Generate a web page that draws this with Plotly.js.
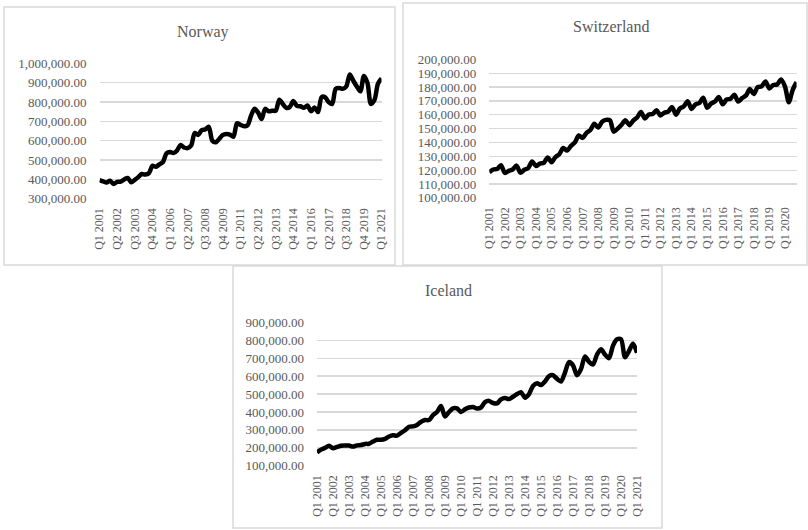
<!DOCTYPE html>
<html>
<head>
<meta charset="utf-8">
<script src="https://cdn.plot.ly/plotly-3.0.1.min.js"></script>
<style>
  html, body { margin: 0; padding: 0; background: #ffffff; }
  #chart { width: 808px; height: 530px; }
</style>
</head>
<body>
<div id="chart"></div>
<script>
// ---- Data ----
const norwayValues = [
  396000, 390000, 384000, 393000, 376000, 388000, 389000, 400000, 408000, 385000,
  398000, 412000, 428000, 425000, 432000, 470000, 466000, 478000, 490000, 535000,
  542000, 536000, 550000, 578000, 565000, 562000, 575000, 640000, 630000, 655000,
  658000, 672000, 600000, 592000, 610000, 630000, 635000, 632000, 620000, 690000,
  682000, 675000, 680000, 730000, 765000, 745000, 712000, 765000, 752000, 755000,
  755000, 812000, 790000, 770000, 775000, 805000, 780000, 778000, 770000, 782000,
  752000, 772000, 748000, 825000, 825000, 800000, 790000, 868000, 872000, 868000,
  880000, 942000, 910000, 880000, 855000, 935000, 900000, 790000, 810000, 895000,
  922000
];
const switzerlandValues = [
  118500, 120500, 120800, 123500, 118000, 119500, 120500, 123300, 118200, 120300,
  121500, 126300, 123000, 124800, 125300, 129200, 125800, 129500, 131500, 136000,
  134200, 137500, 140000, 145000, 143300, 147000, 149000, 153500, 150800, 155000,
  156300, 156000, 147800, 150000, 152800, 156000, 152500, 155800, 158000, 162000,
  157200, 160200, 160500, 163200, 159500, 161500, 162300, 165500, 160000, 164500,
  166000, 169800, 164200, 167500, 168500, 172300, 165000, 168000, 169500, 172800,
  167500, 171000, 171500, 174500, 169500, 172000, 174000, 178500, 175000, 180000,
  180500, 184000, 179000, 181500, 181800, 185500, 180500, 169000, 178000, 183500
];
const icelandValues = [
  175000, 190000, 200000, 212000, 198000, 205000, 212000, 213000, 213000, 207000,
  214000, 216000, 222000, 223000, 235000, 245000, 245000, 250000, 263000, 270000,
  268000, 283000, 298000, 318000, 320000, 328000, 345000, 355000, 355000, 383000,
  400000, 433000, 375000, 400000, 420000, 420000, 400000, 415000, 425000, 428000,
  420000, 425000, 455000, 462000, 450000, 448000, 470000, 478000, 472000, 485000,
  500000, 510000, 480000, 500000, 545000, 560000, 550000, 570000, 600000, 605000,
  585000, 570000, 620000, 678000, 660000, 605000, 640000, 710000, 680000, 665000,
  720000, 750000, 720000, 700000, 770000, 805000, 805000, 705000, 740000, 780000,
  730000
];

const norwayTicks = ["Q1 2001","Q2 2002","Q3 2003","Q4 2004","Q1 2006","Q2 2007","Q3 2008","Q4 2009",
  "Q1 2011","Q2 2012","Q3 2013","Q4 2014","Q1 2016","Q2 2017","Q3 2018","Q4 2019","Q1 2021"];
const switzerlandTicks = ["Q1 2001","Q1 2002","Q1 2003","Q1 2004","Q1 2005","Q1 2006","Q1 2007","Q1 2008",
  "Q1 2009","Q1 2010","Q1 2011","Q1 2012","Q1 2013","Q1 2014","Q1 2015","Q1 2016","Q1 2017","Q1 2018",
  "Q1 2019","Q1 2020"];
const icelandTicks = ["Q1 2001","Q1 2002","Q1 2003","Q1 2004","Q1 2005","Q1 2006","Q1 2007","Q1 2008",
  "Q1 2009","Q1 2010","Q1 2011","Q1 2012","Q1 2013","Q1 2014","Q1 2015","Q1 2016","Q1 2017","Q1 2018",
  "Q1 2019","Q1 2020","Q1 2021"];

const titles = ["Norway", "Switzerland", "Iceland"];

// quarter category labels
function quarterLabels(n) {
  const out = [];
  for (let k = 0; k < n; k++) out.push("Q" + (k % 4 + 1) + " " + (2001 + Math.floor(k / 4)));
  return out;
}

// ---- Layout helpers ----
const W = 808, H = 530;
const px = v => v / W;
const py = v => 1 - v / H;
const FONT = "Liberation Serif, Times New Roman, serif";
const GREY = "#595959";
const GRID = "#d9d9d9";

function lineTrace(vals, xa, ya) {
  return {
    x: quarterLabels(vals.length), y: vals, xaxis: xa, yaxis: ya,
    type: "scatter", mode: "lines",
    line: { color: "#000000", width: 4.5, shape: "spline", smoothing: 0.8 },
    hoverinfo: "skip", showlegend: false
  };
}

function xAxis(x0, x1, yaxisId, n, ticks) {
  return {
    domain: [px(x0), px(x1)], anchor: yaxisId, type: "category",
    range: [0, n - 1], tickmode: "array", tickvals: ticks, ticktext: ticks,
    tickangle: -90, showgrid: false, zeroline: false, showline: false, ticks: "",
    ticklabelstandoff: 6,
    tickfont: { family: FONT, size: 12, color: GREY }, fixedrange: true
  };
}
function yAxis(y0, y1, xaxisId, lo, hi, step) {
  return {
    domain: [py(y1), py(y0)], anchor: xaxisId, range: [lo, hi], dtick: step,
    tick0: lo, tickformat: ",.2f", showgrid: true, gridcolor: GRID, gridwidth: 1.3,
    zeroline: false, showline: false, ticks: "", ticklabelstandoff: 12,
    tickfont: { family: FONT, size: 13, color: GREY }, fixedrange: true
  };
}

const data = [
  lineTrace(norwayValues, "x", "y"),
  lineTrace(switzerlandValues, "x2", "y2"),
  lineTrace(icelandValues, "x3", "y3")
];

const panelBox = (x0, y0, x1, y1) => ({
  type: "rect", xref: "paper", yref: "paper",
  x0: px(x0), x1: px(x1), y0: py(y1), y1: py(y0),
  line: { color: "#d9d9d9", width: 1.5 }, fillcolor: "rgba(0,0,0,0)", layer: "below"
});

const titleAnn = (text, x, y) => ({
  text: text, xref: "paper", yref: "paper", x: px(x), y: py(y),
  xanchor: "center", yanchor: "middle", showarrow: false,
  font: { family: FONT, size: 16, color: GREY }
});

const layout = {
  width: W, height: H,
  margin: { l: 0, r: 0, t: 0, b: 0, pad: 0 },
  paper_bgcolor: "#ffffff", plot_bgcolor: "rgba(0,0,0,0)",
  showlegend: false,
  xaxis: xAxis(99.5, 381.5, "y", norwayValues.length, norwayTicks),
  yaxis: yAxis(63.3, 198.8, "x", 300000, 1000000, 100000),
  xaxis2: xAxis(489.3, 796.6, "y2", switzerlandValues.length, switzerlandTicks),
  yaxis2: yAxis(59.3, 197.9, "x2", 100000, 200000, 10000),
  xaxis3: xAxis(317, 637, "y3", icelandValues.length, icelandTicks),
  yaxis3: yAxis(322.3, 465.8, "x3", 100000, 900000, 100000),
  shapes: [
    panelBox(4, 7, 395, 265),
    panelBox(403, 3, 807, 265),
    panelBox(233, 266, 662, 528)
  ],
  annotations: [
    titleAnn(titles[0], 203, 32),
    titleAnn(titles[1], 611, 27),
    titleAnn(titles[2], 448, 290)
  ]
};

Plotly.newPlot("chart", data, layout, { staticPlot: true, displayModeBar: false });
</script>
</body>
</html>
